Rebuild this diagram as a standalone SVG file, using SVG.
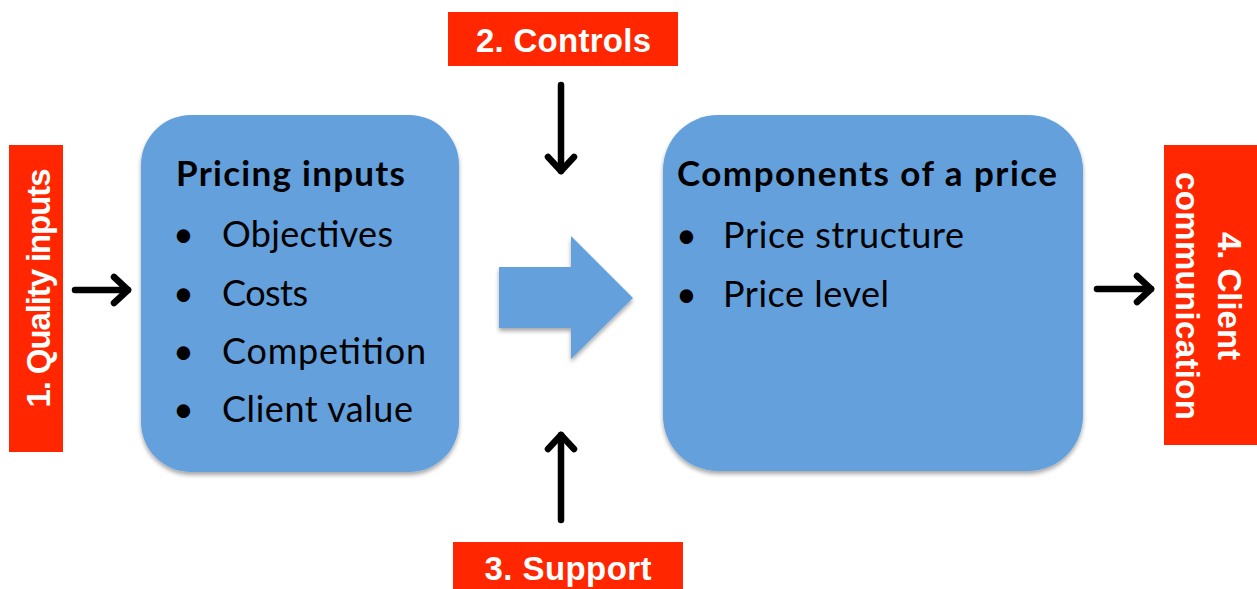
<svg xmlns="http://www.w3.org/2000/svg" width="1257" height="589" viewBox="0 0 1257 589">
  <style>
    .tag { fill: #FF2600; }
    .tagtext { fill: #FFFFFF; font-family: "Liberation Sans", Arial, sans-serif; font-weight: bold; font-size: 33px; }
    .box { fill: #63A0DC; filter: url(#shadow); }
    .title { fill: #000000; font-family: Lato, "Open Sans", sans-serif; font-weight: bold; font-size: 35px; }
    .item { fill: #000000; font-family: Lato, "Open Sans", sans-serif; font-size: 36px; }
    .conn { stroke: #000000; stroke-width: 6.5; stroke-linecap: round; fill: none; marker-end: url(#chev); }
  </style>
  <defs>
    <filter id="shadow" x="-10%" y="-10%" width="120%" height="125%">
      <feDropShadow dx="0" dy="3" stdDeviation="2" flood-color="#000000" flood-opacity="0.35"/>
    </filter>
    <marker id="chev" markerUnits="userSpaceOnUse" viewBox="-20 -20 25 40" refX="0" refY="0" markerWidth="25" markerHeight="40" orient="auto" overflow="visible">
      <path d="M -14 -13 L 0 0 L -14 13" fill="none" stroke="#000000" stroke-width="6.5" stroke-linecap="round" stroke-linejoin="round"/>
    </marker>
  </defs>

  <rect width="1257" height="589" fill="#FFFFFF"/>

  <!-- connectors -->
  <g id="connectors">
    <path class="conn" d="M 75 290 L 128 290"/>
    <path class="conn" d="M 561 85 L 561 171"/>
    <path class="conn" d="M 561 520 L 561 435"/>
    <path class="conn" d="M 1097 289 L 1151 289"/>
    <path id="flow-arrow" d="M 499 267 L 571 267 L 571 236 L 633 298 L 571 359 L 571 328 L 499 328 Z" fill="#63A0DC" filter="url(#shadow)"/>
  </g>

  <!-- 1. Quality inputs -->
  <g id="quality-inputs">
    <rect class="tag" x="9" y="145" width="54" height="307"/>
    <text class="tagtext" transform="translate(50,288) rotate(-90)" text-anchor="middle" textLength="239">1. Quality inputs</text>
  </g>

  <!-- 2. Controls -->
  <g id="controls">
    <rect class="tag" x="448" y="12" width="230" height="54"/>
    <text class="tagtext" x="563.5" y="52" text-anchor="middle" textLength="175">2. Controls</text>
  </g>

  <!-- 3. Support -->
  <g id="support">
    <rect class="tag" x="453" y="542" width="230" height="47"/>
    <text class="tagtext" x="568" y="580" text-anchor="middle" textLength="167">3. Support</text>
  </g>

  <!-- 4. Client communication -->
  <g id="client-communication">
    <rect class="tag" x="1164" y="145" width="93" height="300"/>
    <text class="tagtext" transform="translate(1218,296) rotate(90)" text-anchor="middle" textLength="128">4. Client</text>
    <text class="tagtext" transform="translate(1176,296) rotate(90)" text-anchor="middle" textLength="248">communication</text>
  </g>

  <!-- Pricing inputs -->
  <g id="pricing-inputs">
    <rect class="box" x="141" y="115" width="318" height="357" rx="50" ry="50"/>
    <text class="title" x="176" y="186" textLength="229">Pricing inputs</text>
    <text class="item" x="173" y="247">•</text>
    <text class="item" x="222" y="247" textLength="171">Objectives</text>
    <text class="item" x="173" y="306">•</text>
    <text class="item" x="222" y="306" textLength="86">Costs</text>
    <text class="item" x="173" y="364">•</text>
    <text class="item" x="222" y="364" textLength="204">Competition</text>
    <text class="item" x="173" y="422">•</text>
    <text class="item" x="222" y="422" textLength="191">Client value</text>
  </g>

  <!-- Components of a price -->
  <g id="components-of-a-price">
    <rect class="box" x="663" y="115" width="420" height="356" rx="55" ry="55"/>
    <text class="title" x="677" y="186" textLength="380">Components of a price</text>
    <text class="item" x="676" y="248">•</text>
    <text class="item" x="723" y="248" textLength="241">Price structure</text>
    <text class="item" x="676" y="307">•</text>
    <text class="item" x="723" y="307" textLength="166">Price level</text>
  </g>
</svg>
